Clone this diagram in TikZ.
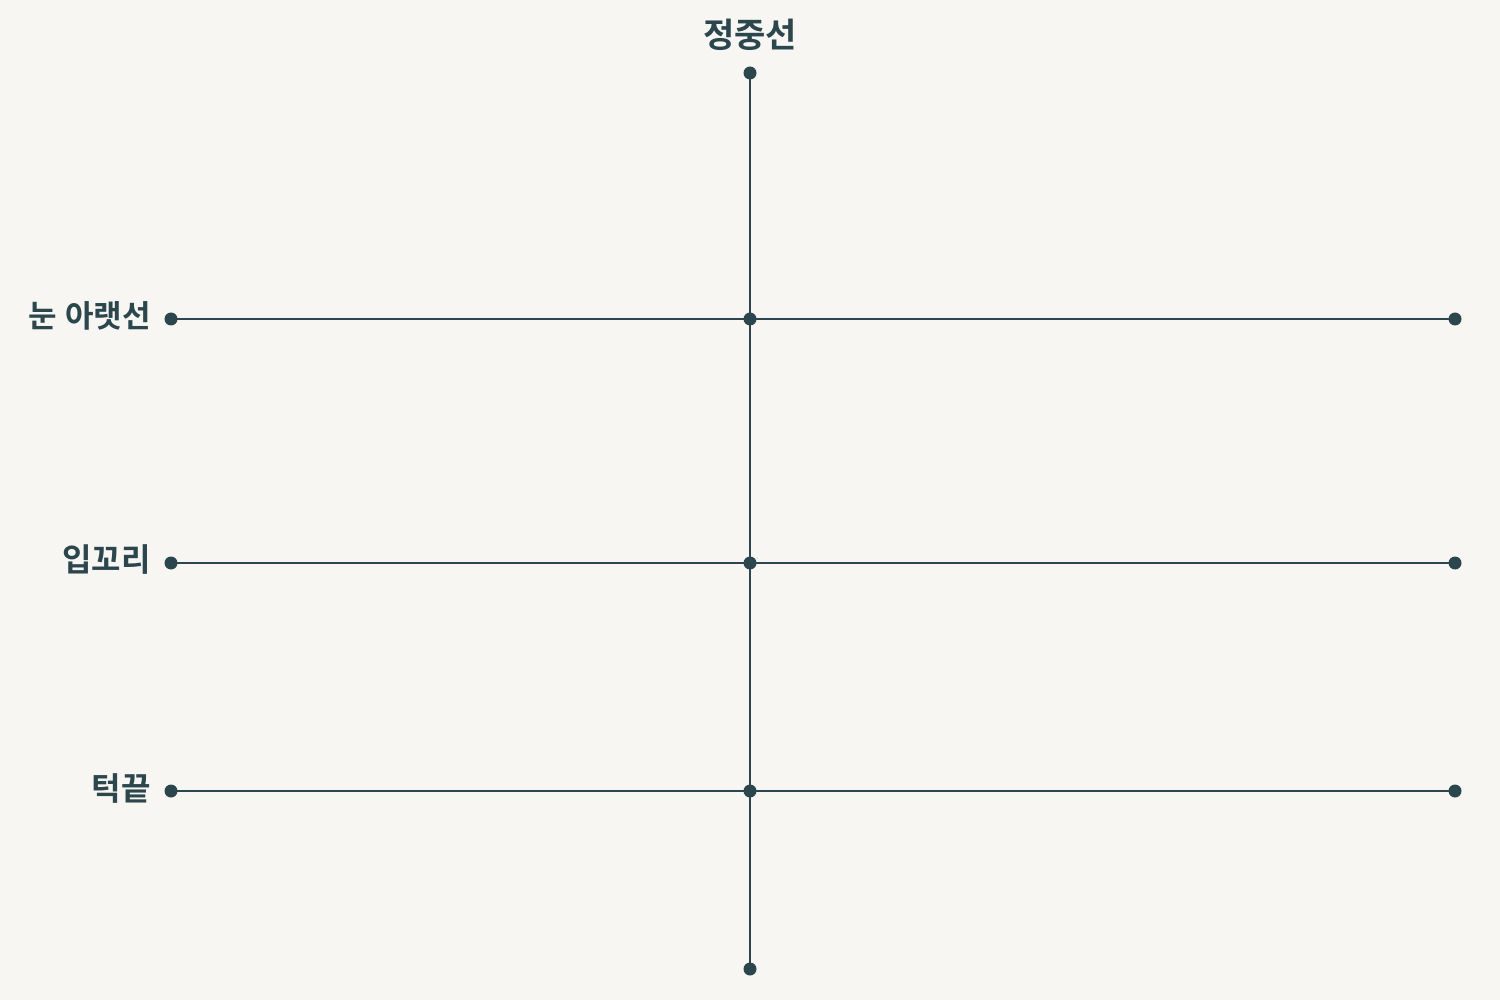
\documentclass[tikz,border=0pt]{standalone}
\usepackage{fontspec}
\newfontfamily\kr{Noto Sans CJK KR}[BoldFont={* Bold}]
\definecolor{ink}{HTML}{2B474D}
\definecolor{bg}{HTML}{F8F6F2}
\begin{document}
\begin{tikzpicture}[x=1pt,y=-1pt,
  dotn/.style={circle,fill=ink,inner sep=0pt,minimum size=13pt},
  lbl/.style={font=\kr\bfseries\fontsize{32}{36}\selectfont,text=ink,inner sep=0pt},
  ln/.style={draw=ink,line width=2.8pt}]
\fill[bg] (0,0) rectangle (1500,1000);
\useasboundingbox (0,0) rectangle (1500,1000);
% vertical midline
\coordinate (vt) at (750,73);
\coordinate (vb) at (750,969);
\draw[ln] (vt) -- (vb);
% horizontal lines
\foreach \n/\y in {e/319,m/563,c/791}{
  \coordinate (\n l) at (171,\y);
  \coordinate (\n r) at (1455,\y);
  \coordinate (\n c) at (750,\y);
  \draw[ln] (\n l) -- (\n r);
}
\foreach \p in {vt,vb,el,er,ec,ml,mr,mc,cl,cr,cc}{
  \node[dotn] (d\p) at (\p) {};
}
\node[lbl,font=\kr\bfseries\fontsize{34}{38}\selectfont] (tmid) at (750,35) {정중선};
\node[lbl,anchor=east,font=\kr\bfseries\fontsize{31}{36}\selectfont] (teye) at (151,316) {눈\hspace{8pt}아랫선};
\node[lbl,anchor=east] (tmouth) at (151,560) {입꼬리};
\node[lbl,anchor=east] (tchin) at (151,788) {턱끝};
\end{tikzpicture}
\end{document}
